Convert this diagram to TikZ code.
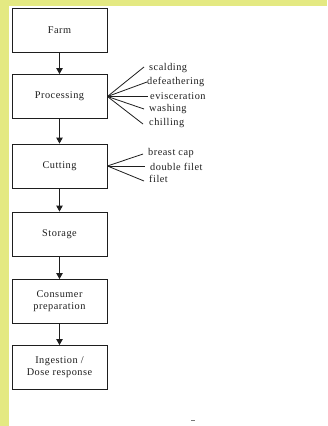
\documentclass[tikz,border=0pt]{standalone}
\usepackage{fontspec}
\setmainfont[LetterSpace=5]{Liberation Serif}
\usetikzlibrary{arrows.meta}
\definecolor{padyellow}{RGB}{228,233,130}
\definecolor{ink}{RGB}{30,30,30}
\begin{document}
\begin{tikzpicture}[x=1pt,y=-1pt,
  stage/.style={draw=ink, line width=0.9pt, minimum width=95pt, minimum height=44pt,
    inner sep=0pt, align=center, text=ink, font=\fontsize{10.3}{12}\selectfont},
  flow/.style={draw=ink, line width=0.9pt, -{Triangle[width=6.5pt,length=6pt]}},
  fan/.style={draw=ink, line width=0.8pt},
  sub/.style={anchor=west, inner sep=0pt, text=ink, font=\fontsize{10.3}{12}\selectfont}]
  % page frame
  \useasboundingbox (0,0) rectangle (327,426);
  \fill[padyellow] (0,0) rectangle (327,426);
  \fill[white] (9,6) rectangle (327,426);

  % main chain of stages
  \node[stage] (farm)  at (59.5,30)    {Farm};
  \node[stage] (proc)  at (59.5,96.5)  {Processing};
  \node[stage] (cut)   at (59.5,166)   {Cutting};
  \node[stage] (store) at (59.5,234)   {Storage};
  \node[stage] (cons)  at (59.5,301.5) {Consumer\\preparation};
  \node[stage] (ingest) at (59.5,367.5) {Ingestion /\\Dose response};

  \draw[flow] (farm.south) -- (proc.north);
  \draw[flow] (proc.south) -- (cut.north);
  \draw[flow] (cut.south) -- (store.north);
  \draw[flow] (store.south) -- (cons.north);
  \draw[flow] (cons.south) -- (ingest.north);

  % processing steps
  \coordinate (p1) at (144,67);
  \coordinate (p2) at (147,82);
  \coordinate (p3) at (148,96.5);
  \coordinate (p4) at (144,109);
  \coordinate (p5) at (143,124);
  \foreach \p in {p1,p2,p3,p4,p5} \draw[fan] (proc.east) -- (\p);
  \node[sub] (scald) at (149,68)  {scalding};
  \node[sub] (defea) at (147,82)  {defeathering};
  \node[sub] (evisc) at (150,96)  {evisceration};
  \node[sub] (wash)  at (149,109) {washing};
  \node[sub] (chill) at (149,123) {chilling};

  % cutting products
  \coordinate (c1) at (143,154);
  \coordinate (c2) at (145,166);
  \coordinate (c3) at (144,181);
  \foreach \c in {c1,c2,c3} \draw[fan] (cut.east) -- (\c);
  \node[sub] (breast) at (148,153) {breast cap};
  \node[sub] (dfilet) at (150,167) {double filet};
  \node[sub] (filet)  at (149,179) {filet};

  % small mark at the foot of the page
  \draw[ink!60, line width=0.8pt] (191,420) -- (195,420);
\end{tikzpicture}
\end{document}
